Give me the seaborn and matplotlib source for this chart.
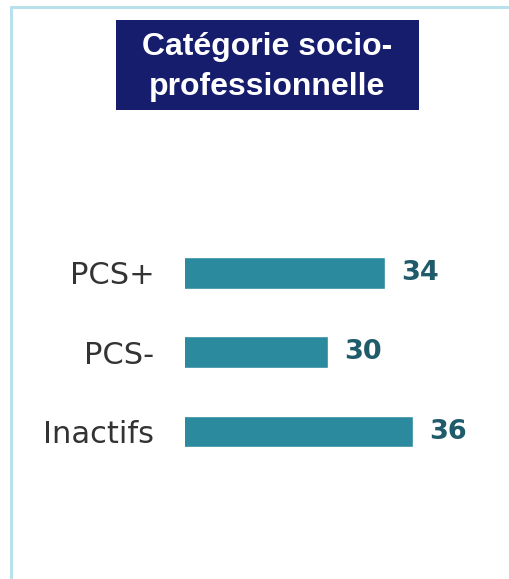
import pandas as pd
import seaborn as sns
import matplotlib.pyplot as plt
from matplotlib.patches import Rectangle
from matplotlib.lines import Line2D

categories = ["PCS+", "PCS-", "Inactifs"]
values = [34, 30, 36]
title_lines = ["Catégorie socio-", "professionnelle"]

bar_color = "#2B8A9E"
label_color = "#1F5B6A"
box_color = "#151D6C"
border_color = "#B9E1EC"

df = pd.DataFrame({"cat": categories, "val": values})

sns.set_style("white")
W, H = 510, 579
fig = plt.figure(figsize=(W / 100, H / 100), dpi=100)

# axes: left edge = value 20 at x=185px
ax = fig.add_axes([185 / W, (H - 500) / H, 315 / W, 300 / H])
sns.barplot(data=df, x="val", y="cat", color=bar_color, width=0.4,
            saturation=1, ax=ax, orient="h")
ax.set_xlim(20, 20 + 315 / 14.25)
ax.set_ylim(2.864, -0.921)
ax.set_xlabel("")
ax.set_ylabel("")
ax.set_xticks([])
sns.despine(ax=ax, left=True, bottom=True)
ax.tick_params(axis="y", length=0, pad=22, labelsize=22, labelcolor="#333333")
for c in ax.containers:
    ax.bar_label(c, padding=12, fontsize=19.5, fontweight="bold",
                 color=label_color, family="DejaVu Sans")

# border lines
fig.add_artist(Line2D([11 / W, 11 / W], [0, 1 - 7 / H], color=border_color,
                      lw=2.2, transform=fig.transFigure))
fig.add_artist(Line2D([11 / W, 1], [1 - 7 / H, 1 - 7 / H], color=border_color,
                      lw=2.2, transform=fig.transFigure))

# title box
fig.add_artist(Rectangle((116 / W, 1 - 110 / H), 303 / W, 90 / H,
                         facecolor=box_color, edgecolor="none",
                         transform=fig.transFigure))
for line, base in zip(title_lines, [55, 95]):
    fig.text(267.5 / W, 1 - base / H, line, ha="center", va="baseline",
             color="white", fontsize=23, fontweight="bold",
             family="Liberation Sans")

fig.savefig("out.png", dpi=100)
